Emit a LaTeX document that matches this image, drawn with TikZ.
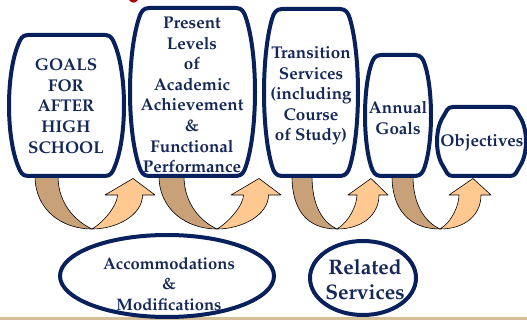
\documentclass[tikz,border=0pt]{standalone}
\usepackage[T1]{fontenc}
\usepackage{mathpazo}
\definecolor{navy}{RGB}{8,32,92}
\definecolor{txt}{RGB}{22,40,88}
\definecolor{darktan}{RGB}{201,161,121}
\definecolor{peach}{RGB}{255,201,145}
\definecolor{strip}{RGB}{244,222,188}
\definecolor{tanline}{RGB}{214,190,150}
\tikzset{
  boxline/.style={draw=navy, line width=4pt, fill=white, line join=round},
  boxtext/.style={text=txt, font=\fontsize{17}{20.6}\selectfont\bfseries, align=center, inner sep=0pt},
  ovalline/.style={draw=navy, line width=4pt, fill=white},
  acctext/.style={text=txt, font=\fontsize{16.6}{20.5}\selectfont\bfseries, align=center, inner sep=0pt},
  reltext/.style={text=txt, font=\fontsize{21}{25}\selectfont\bfseries, align=center, inner sep=0pt},
  darkpart/.style={fill=darktan, draw=black, line width=0.6pt, line join=round},
  lightpart/.style={fill=peach, draw=black, line width=0.6pt, line join=round},
}
% barrel box: xl xr yt yb bulge
\newcommand\barrelbox[5]{%
  \draw[boxline] ({#1+#5+10},#3) -- ({#2-#5-10},#3)
    .. controls ({#2-#5-4},#3) and ({#2-#5-32*#5/(#4-#3-20)},{#3+4}) .. ({#2-#5},{#3+10})
    .. controls ({#2+#5/3},{#3+10+(#4-#3-20)/4}) and ({#2+#5/3},{#4-10-(#4-#3-20)/4}) .. ({#2-#5},{#4-10})
    .. controls ({#2-#5-32*#5/(#4-#3-20)},{#4-4}) and ({#2-#5-4},#4) .. ({#2-#5-10},#4)
    -- ({#1+#5+10},#4)
    .. controls ({#1+#5+4},#4) and ({#1+#5+32*#5/(#4-#3-20)},{#4-4}) .. ({#1+#5},{#4-10})
    .. controls ({#1-#5/3},{#4-10-(#4-#3-20)/4}) and ({#1-#5/3},{#3+10+(#4-#3-20)/4}) .. ({#1+#5},{#3+10})
    .. controls ({#1+#5+32*#5/(#4-#3-20)},{#3+4}) and ({#1+#5+4},#3) .. cycle;
}
% u-turn arrow: dark outer x, dark inner x, bottom x, head centre x, head half width, shaft half width
\newcommand\uarrow[6]{%
  \draw[darkpart] (#1,176) .. controls (#1,210) and ({#3-30},229) .. (#3,229)
    .. controls ({#3-15},222) and (#2,205) .. (#2,176) -- cycle;
  \draw[lightpart] (#3,229) .. controls ({#3+25},229) and ({#4+#6},215) .. ({#4+#6},195)
    -- ({#4+#5},195) -- ({#4+3},178.5) -- ({#4-#5},195) -- ({#4-#6},195)
    .. controls ({#4-#6},205) and ({#3+12},222) .. (#3,229) -- cycle;
}
\begin{document}
\begin{tikzpicture}[x=1pt,y=-1pt]
\useasboundingbox (0,0) rectangle (527,320);
\fill[white] (0,0) rectangle (527,320);
% background decorations (native orientation for shading)
\shade[top color=strip, bottom color=white] (0pt,80pt) rectangle (9pt,320pt);
\fill[tanline] (0,317) rectangle (527,320);
\fill[red!70!black] (129,0) .. controls (131,3.5) and (136,3.5) .. (138,0) -- cycle;
% arrows
\uarrow{35}{58}{92}{130}{25}{12.5}
\uarrow{159}{184}{217}{256}{25}{12.5}
\uarrow{292}{312}{337}{368}{20}{11}
\uarrow{392}{413}{440}{470}{21}{11}
% boxes
\barrelbox{9}{124}{35}{176}{9}
\barrelbox{130}{255}{8}{176}{9}
\barrelbox{264}{358}{9}{176}{8}
\barrelbox{365}{431}{55}{176}{6}
\barrelbox{437}{526}{107}{176}{6}
\node[boxtext] (goals) at (66,106) {GOALS\\FOR\\AFTER\\HIGH\\SCHOOL};
\node[boxtext] (plaafp) at (192,95) {Present\\Levels\\of\\Academic\\Achievement\\\&\\Functional\\Performance};
\node[boxtext] (trans) at (311,96) {Transition\\Services\\(including\\Course\\of Study)};
\node[boxtext] (annual) at (398,118) {Annual\\Goals};
\node[boxtext] (obj) at (482,143) {Objectives};
% ovals
\draw[ovalline] (167,276) ellipse [x radius=107, y radius=41];
\draw[ovalline] (363,278) ellipse [x radius=53, y radius=37];
\node[acctext] (acc) at (169,284) {Accommodations\\\&\\Modifications};
\node[reltext] (rel) at (365,280) {Related\\Services};
\end{tikzpicture}
\end{document}
